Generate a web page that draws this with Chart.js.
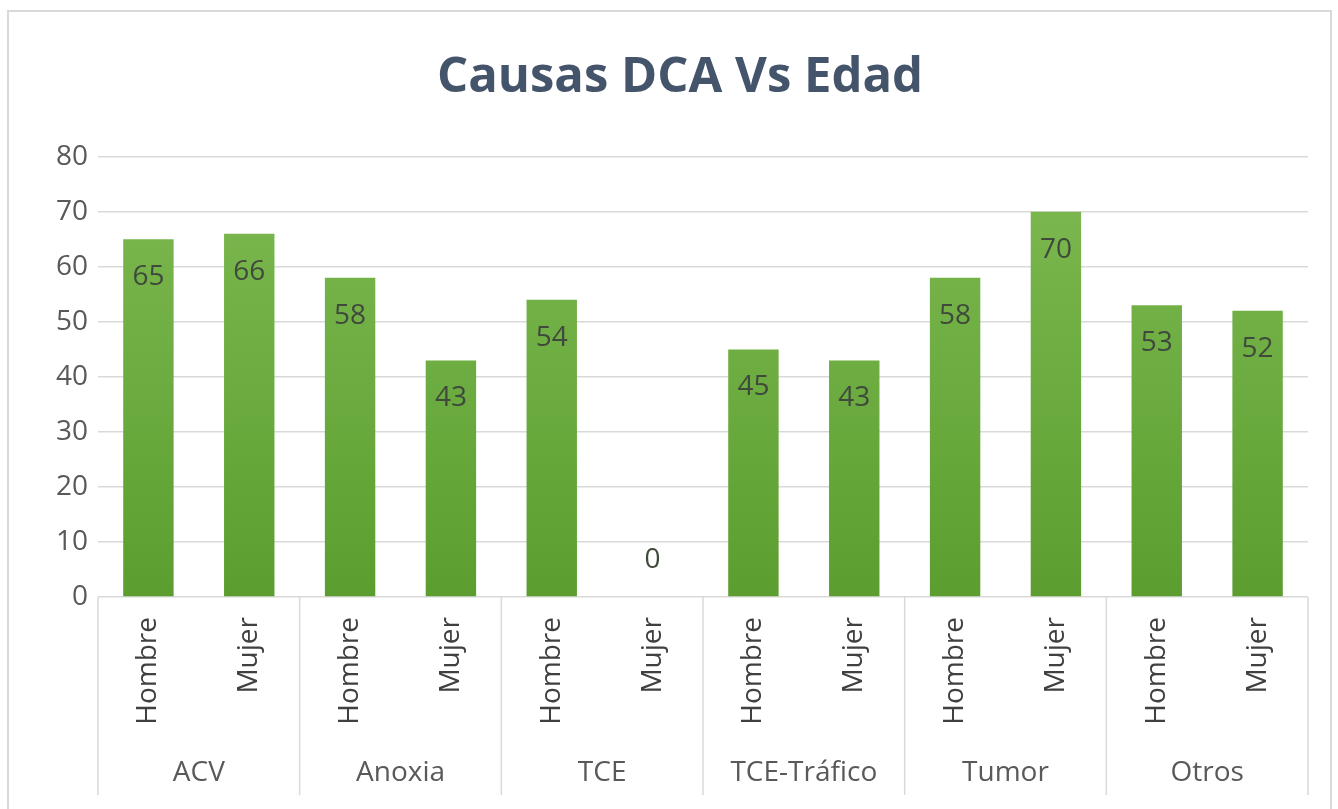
<!DOCTYPE html>
<html>
<head>
<meta charset="utf-8">
<script src="https://cdn.jsdelivr.net/npm/chart.js@4.4.1/dist/chart.umd.min.js"></script>
<style>
    html, body { margin: 0; padding: 0; background: #fff; overflow: hidden; height: 809px; }
    .chart-box {
        position: absolute; left: 7px; top: 10px;
        width: 1321px; height: 810px;
        border: 2px solid #d9d9d9; background: #fff;
    }
</style>
</head>
<body>
<div class="chart-box"><canvas id="grafico"></canvas></div>
<script>
const causas = ['ACV', 'Anoxia', 'TCE', 'TCE-Tráfico', 'Tumor', 'Otros'];
const sexos = ['Hombre', 'Mujer'];
const edadHombre = [65, 58, 54, 45, 58, 53];
const edadMujer = [66, 43, 0, 43, 70, 52];
const ejeY = { min: 0, max: 80, paso: 10 };

// etiquetas y valores intercalados Hombre / Mujer por causa
const etiquetas = [];
const valores = [];
causas.forEach((c, i) => {
    etiquetas.push(sexos[0], sexos[1]);
    valores.push(edadHombre[i], edadMujer[i]);
});

Chart.defaults.font.family = "'Open Sans', sans-serif";

function degradado(context) {
    const { chart } = context;
    const area = chart.chartArea;
    if (!area) return '#70ad47';
    const g = chart.ctx.createLinearGradient(0, area.bottom, 0, area.top);
    g.addColorStop(0, '#5b9e2f');
    g.addColorStop(1, '#7eba52');
    return g;
}

// numeros dentro del extremo de cada barra
const etiquetasDatos = {
    id: 'etiquetasDatos',
    afterDatasetsDraw(chart) {
        const ctx = chart.ctx;
        const meta = chart.getDatasetMeta(0);
        ctx.save();
        ctx.font = "28px 'Open Sans'";
        ctx.fillStyle = '#3f4a3c';
        ctx.textAlign = 'center';
        ctx.textBaseline = 'middle';
        meta.data.forEach((bar, i) => {
            const v = valores[i];
            const y = v > 0 ? bar.y + 38 : bar.y - 37;
            ctx.fillText(String(v), bar.x, y);
        });
        ctx.restore();
    }
};

// lineas separadoras del eje de categorias
const separadores = {
    id: 'separadores',
    afterDraw(chart) {
        const ctx = chart.ctx;
        const area = chart.chartArea;
        const x = chart.scales.x;
        const xs = [area.left];
        for (let i = 1; i < causas.length; i++) {
            xs.push((x.getPixelForValue(2 * i - 1) + x.getPixelForValue(2 * i)) / 2);
        }
        xs.push(area.right);
        ctx.save();
        ctx.strokeStyle = '#d9d9d9';
        ctx.lineWidth = 1.5;
        xs.forEach(px => {
            ctx.beginPath();
            ctx.moveTo(px, area.bottom);
            ctx.lineTo(px, area.bottom + 198);
            ctx.stroke();
        });
        ctx.restore();
    }
};

new Chart(document.getElementById('grafico'), {
    type: 'bar',
    data: {
        labels: etiquetas,
        datasets: [{
            label: 'Edad',
            data: valores,
            backgroundColor: degradado,
            borderWidth: 0,
            categoryPercentage: 1,
            barPercentage: 0.5
        }]
    },
    options: {
        responsive: true,
        maintainAspectRatio: false,
        animation: false,
        layout: { padding: { left: 43, right: 22, top: 0, bottom: 25 } },
        plugins: {
            legend: { display: false },
            tooltip: { enabled: false },
            title: {
                display: true,
                text: 'Causas DCA Vs Edad',
                color: '#44546a',
                font: { size: 49, weight: 'bold' },
                padding: { top: 37, bottom: 49 }
            }
        },
        scales: {
            y: {
                min: ejeY.min,
                max: ejeY.max,
                ticks: { stepSize: ejeY.paso, color: '#595959', font: { size: 28 }, padding: 10 },
                grid: { color: '#d9d9d9', lineWidth: 1.5, drawTicks: false },
                border: { display: false },
                afterFit(scale) { scale.width = 46; }
            },
            x: {
                ticks: {
                    autoSkip: false, minRotation: 90, maxRotation: 90,
                    color: '#404040', font: { size: 28 }, padding: 20
                },
                grid: { display: false, drawTicks: false },
                border: { display: false },
                afterFit(scale) { scale.height = 140; }
            },
            x2: {
                type: 'category',
                position: 'bottom',
                labels: causas,
                offset: true,
                ticks: { color: '#595959', font: { size: 28 }, padding: 19, autoSkip: false, maxRotation: 0 },
                grid: { display: false, drawTicks: false },
                border: { display: false },
                afterFit(scale) { scale.height = 60; }
            }
        }
    },
    plugins: [etiquetasDatos, separadores]
});
</script>
</body>
</html>
